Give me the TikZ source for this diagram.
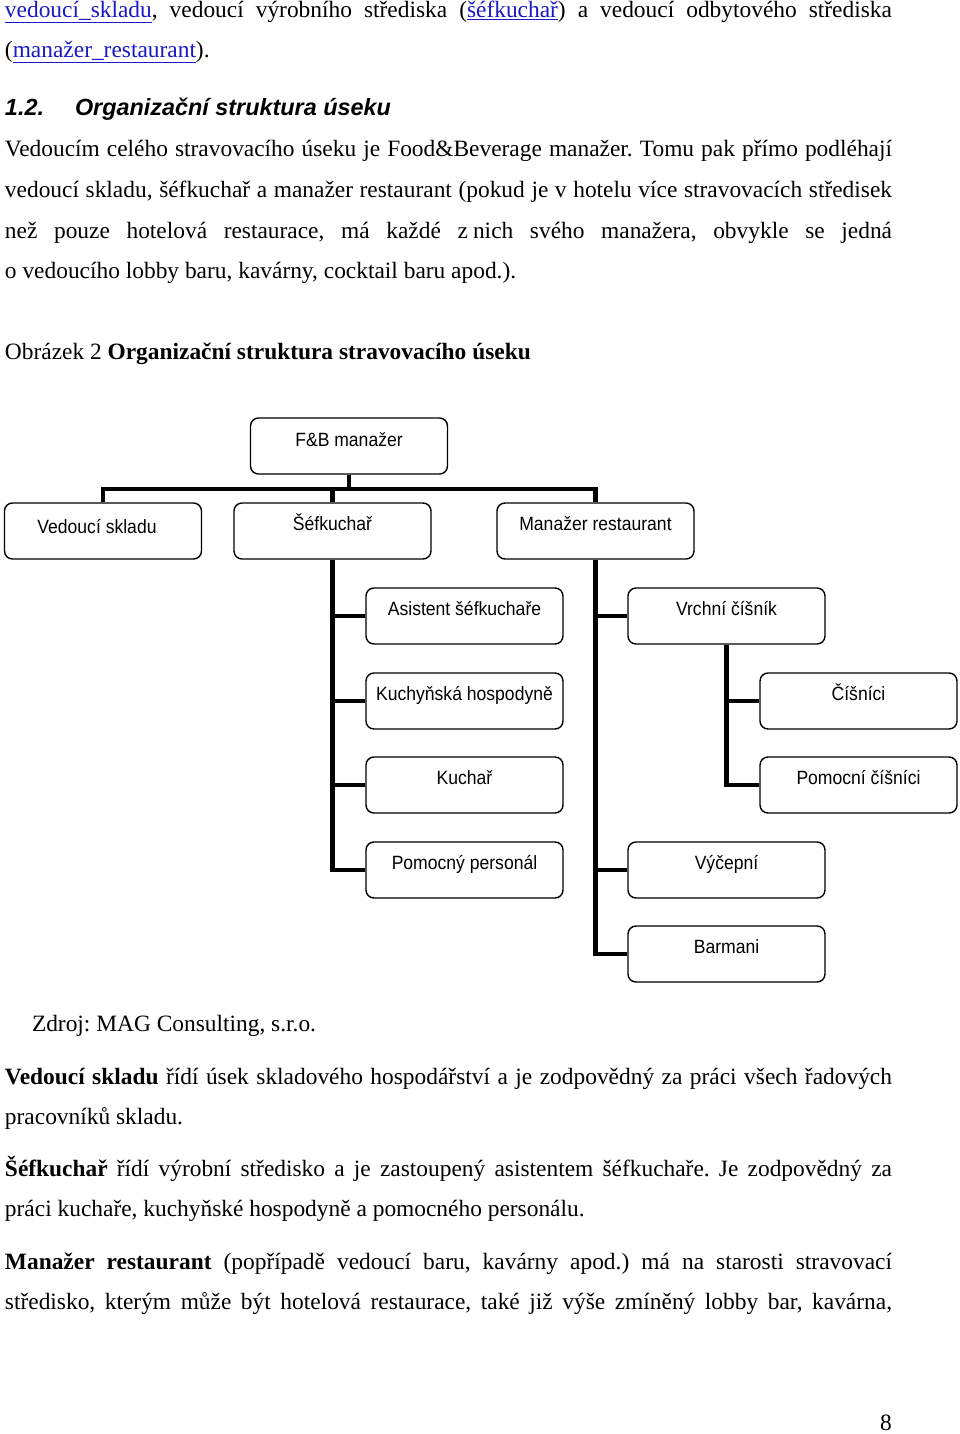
\documentclass[tikz,border=0pt]{standalone}
\usepackage{fontspec}
\setmainfont{Liberation Serif}
\setsansfont{Liberation Sans}
\newfontfamily\narrowsans[FakeStretch=0.915]{Liberation Sans}
\usetikzlibrary{calc}
\frenchspacing
\definecolor{linkblue}{RGB}{25,25,200}
\newcommand\lnk[1]{\textcolor{linkblue}{\underline{#1}}}
\newcommand\bodyfont{\fontsize{23.4}{28}\selectfont}
\newcommand\boxfont{\narrowsans\fontsize{19.2}{22}\selectfont}
\newcommand\jline[1]{\makebox[887pt][s]{#1}}
\begin{document}
\begin{tikzpicture}[x=1pt,y=-1pt,
  txt/.style={anchor=base west, inner sep=0pt, outer sep=0pt, font=\bodyfont},
  orgbox/.style={draw, rounded corners=8pt, line width=1.4pt, minimum width=197pt,
    minimum height=56pt, inner sep=0pt, font=\boxfont, text height=10pt, text depth=12pt},
  conn/.style={line width=4.5pt}]
\useasboundingbox[fill=white] (0,0) rectangle (960,1434);

% ---- top text ----
\node[txt] (t1) at (5,18) {\jline{\lnk{vedoucí\_skladu}, vedoucí výrobního střediska (\lnk{šéfkuchař}) a vedoucí odbytového střediska}};
\node[txt] (t2) at (5,58) {(\lnk{manažer\_restaurant}).};
\node[txt, font=\bodyfont\sffamily\bfseries\itshape] (h1) at (5,116) {1.2.};
\node[txt, font=\bodyfont\sffamily\bfseries\itshape] (h2) at (75,116) {Organizační struktura úseku};
\node[txt] (t3) at (5,157) {\jline{Vedoucím celého stravovacího úseku je Food\&Beverage manažer. Tomu pak přímo podléhají}};
\node[txt] (t4) at (5,197) {\jline{vedoucí skladu, šéfkuchař a manažer restaurant (pokud je v hotelu více stravovacích středisek}};
\node[txt] (t5) at (5,238) {\jline{než pouze hotelová restaurace, má každé \hbox{z\hspace{0.22em}nich} svého manažera, obvykle se jedná}};
\node[txt] (t6) at (5,278) {o vedoucího lobby baru, kavárny, cocktail baru apod.).};
\node[txt] (cap) at (5,359) {Obrázek 2 \textbf{Organizační struktura stravovacího úseku}};

% ---- org chart ----
\node[orgbox, text height=12pt, text depth=11pt] (fb) at (349,446) {F\&B manažer};
\node[orgbox, text height=12pt, text depth=8pt] (vs) at (103,531) {Vedoucí skladu\hspace*{12pt}};
\node[orgbox] (sk) at (332.5,531) {Šéfkuchař};
\node[orgbox] (mr) at (595.5,531) {Manažer restaurant};
\node[orgbox] (as) at (464.5,616) {Asistent šéfkuchaře};
\node[orgbox] (kh) at (464.5,701) {Kuchyňská hospodyně};
\node[orgbox] (ku) at (464.5,785) {Kuchař};
\node[orgbox] (pp) at (464.5,870) {Pomocný personál};
\node[orgbox] (vc) at (726.5,616) {Vrchní číšník};
\node[orgbox] (ci) at (858.5,701) {Číšníci};
\node[orgbox] (pc) at (858.5,785) {Pomocní číšníci};
\node[orgbox] (vy) at (726.5,870) {Výčepní};
\node[orgbox] (ba) at (726.5,954) {Barmani};

\coordinate (bar) at (0,489);
\draw[conn] (fb.south) -- (fb.south |- bar);
\draw[conn] (vs.north) |- (bar -| mr.north) -- (mr.north);
\draw[conn] (sk.north) -- (sk.north |- bar);

\draw[conn] (sk.south) |- (pp.west);
\draw[conn] (sk.south |- as.west) -- (as.west);
\draw[conn] (sk.south |- kh.west) -- (kh.west);
\draw[conn] (sk.south |- ku.west) -- (ku.west);

\draw[conn] (mr.south) |- (ba.west);
\draw[conn] (mr.south |- vc.west) -- (vc.west);
\draw[conn] (mr.south |- vy.west) -- (vy.west);

\draw[conn] (vc.south) |- (pc.west);
\draw[conn] (vc.south |- ci.west) -- (ci.west);

% ---- bottom text ----
\node[txt] (src) at (32,1031) {Zdroj: MAG Consulting, s.r.o.};
\node[txt] (p1) at (5,1084) {\jline{\textbf{Vedoucí skladu} řídí úsek skladového hospodářství a je zodpovědný za práci všech řadových}};
\node[txt] (p1b) at (5,1124) {pracovníků skladu.};
\node[txt] (p2) at (5,1176) {\jline{\textbf{Šéfkuchař} řídí výrobní středisko a je zastoupený asistentem šéfkuchaře. Je zodpovědný za}};
\node[txt] (p2b) at (5,1216) {práci kuchaře, kuchyňské hospodyně a pomocného personálu.};
\node[txt] (p3) at (5,1269) {\jline{\textbf{Manažer restaurant} (popřípadě vedoucí baru, kavárny apod.) má na starosti stravovací}};
\node[txt] (p3b) at (5,1309) {\jline{středisko, kterým může být hotelová restaurace, také již výše zmíněný lobby bar, kavárna,}};
\node[txt, anchor=base] (pg) at (886,1430) {8};
\end{tikzpicture}
\end{document}
